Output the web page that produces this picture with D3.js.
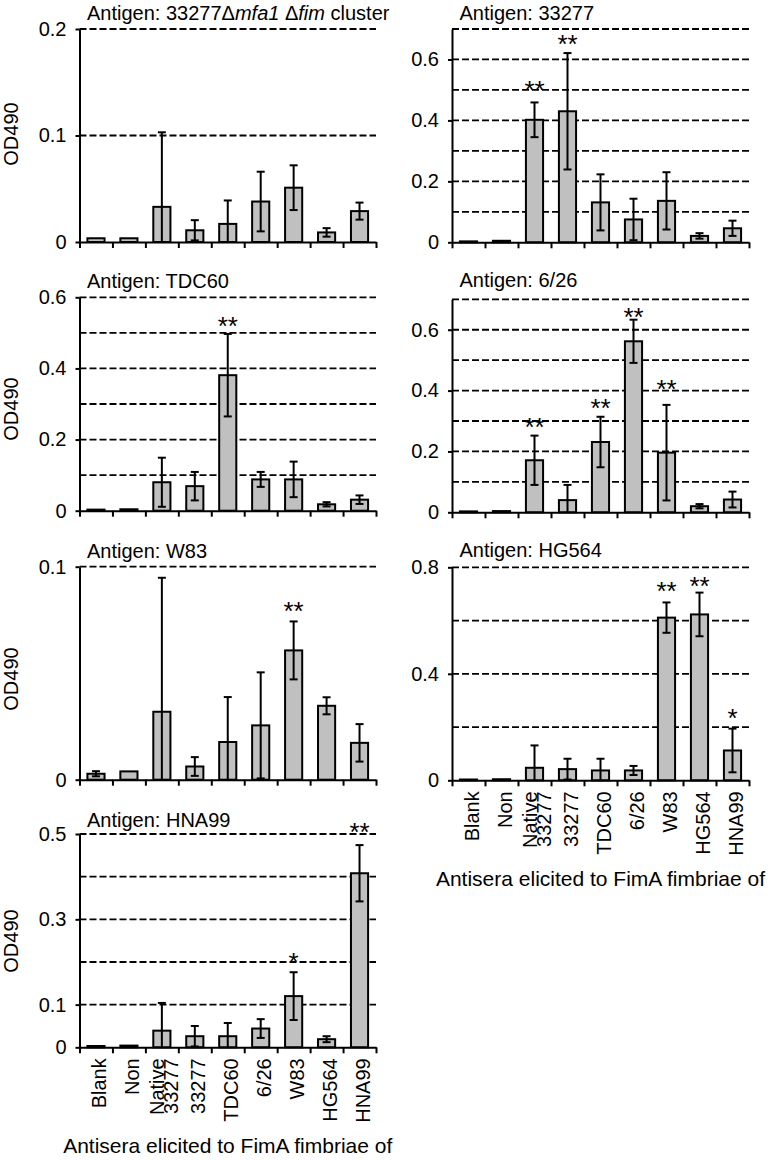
<!DOCTYPE html>
<html><head><meta charset="utf-8">
<script src="https://cdn.jsdelivr.net/npm/d3@7"></script>
<style>
body{margin:0;background:#fff}
text{font-family:Arial,"Liberation Sans",Helvetica,sans-serif;fill:#000}
</style>
</head><body>
<svg id="c" width="777" height="1160"></svg>
<script>
// ---------- DATA ----------
const categories = ["Blank","Non","Native 33277","33277","TDC60","6/26","W83","HG564","HNA99"];
const categoryLines = [["Blank"],["Non"],["Native","33277"],["33277"],["TDC60"],["6/26"],["W83"],["HG564"],["HNA99"]];
const xAxisTitle = "Antisera elicited to FimA fimbriae of";
const yAxisTitle = "OD490";

// Antigen: 33277Δmfa1 Δfim cluster
const meanMutant = [0.0035,0.0035,0.033,0.011,0.017,0.038,0.051,0.009,0.029];
const sdMutant   = [0,0,0.070,0.0095,0.022,0.028,0.021,0.004,0.008];
const starsMutant = ["","","","","","","","",""];
const starAtMutant = [0,0,0,0,0,0,0,0,0];
const ticksMutant = [0,0.1,0.2];
const gridMutant = [0.1,0.2];

// Antigen: 33277
const mean33277 = [0.003,0.005,0.402,0.430,0.131,0.075,0.136,0.021,0.046];
const sd33277   = [0,0,0.057,0.191,0.092,0.068,0.094,0.009,0.025];
const stars33277 = ["","","**","**","","","","",""];
const starAt33277 = [0,0,0.521,0.671,0,0,0,0,0];
const ticks33277 = [0,0.2,0.4,0.6];
const grid33277 = [0.1,0.2,0.3,0.4,0.5,0.6,0.7];

// Antigen: TDC60
const meanTDC60 = [0.003,0.004,0.080,0.069,0.381,0.088,0.088,0.018,0.031];
const sdTDC60   = [0,0,0.069,0.040,0.116,0.021,0.050,0.006,0.012];
const starsTDC60 = ["","","","","**","","","",""];
const starAtTDC60 = [0,0,0,0,0.536,0,0,0,0];
const ticksTDC60 = [0,0.2,0.4,0.6];
const gridTDC60 = [0.1,0.2,0.3,0.4,0.5,0.6];

// Antigen: 6/26
const mean626 = [0.003,0.004,0.171,0.040,0.231,0.562,0.196,0.020,0.042];
const sd626   = [0,0,0.081,0.050,0.083,0.071,0.157,0.007,0.026];
const stars626 = ["","","**","","**","**","**","",""];
const starAt626 = [0,0,0.299,0,0.363,0.663,0.425,0,0];
const ticks626 = [0,0.2,0.4,0.6];
const grid626 = [0.1,0.2,0.3,0.4,0.5,0.6,0.7];

// Antigen: W83
const meanW83 = [0.0028,0.0039,0.0319,0.0062,0.0177,0.0255,0.0607,0.0347,0.0173];
const sdW83   = [0.0012,0,0.0629,0.0044,0.0211,0.0249,0.0136,0.0040,0.0088];
const starsW83 = ["","","","","","","**","",""];
const starAtW83 = [0,0,0,0,0,0,0.082,0,0];
const ticksW83 = [0,0.1];
const gridW83 = [0.1];

// Antigen: HG564
const meanHG564 = [0.003,0.004,0.047,0.042,0.037,0.037,0.611,0.623,0.112];
const sdHG564   = [0,0,0.084,0.039,0.044,0.017,0.057,0.082,0.082];
const starsHG564 = ["","","","","","","**","**","*"];
const starAtHG564 = [0,0,0,0,0,0,0.733,0.754,0.257];
const ticksHG564 = [0,0.4,0.8];
const gridHG564 = [0.2,0.4,0.6,0.8];

// Antigen: HNA99
const meanHNA99 = [0.003,0.004,0.039,0.026,0.026,0.044,0.120,0.019,0.408];
const sdHNA99   = [0,0,0.065,0.024,0.031,0.022,0.056,0.007,0.066];
const starsHNA99 = ["","","","","","","*","","**"];
const starAtHNA99 = [0,0,0,0,0,0,0.213,0,0.519];
const ticksHNA99 = [0,0.1,0.3,0.5];
const gridHNA99 = [0.1,0.2,0.3,0.4,0.5];

// ---------- LAYOUT ----------
const cols = [{x0:79.5, x1:376}, {x0:452, x1:749}];
const panels = [
  {title:[["Antigen: 33277Δ",false],["mfa1",true],[" Δ",false],["fim",true],[" cluster",false]],
   col:0, top:29, bottom:242, max:0.2, mean:meanMutant, sd:sdMutant, stars:starsMutant, starAt:starAtMutant,
   ticks:ticksMutant, grid:gridMutant, titleY:19.5, ylab:134, xlabels:false},
  {title:[["Antigen: 33277",false]], col:1, top:29, bottom:242.3, max:0.7, mean:mean33277, sd:sd33277,
   stars:stars33277, starAt:starAt33277, ticks:ticks33277, grid:grid33277, titleY:20, ylab:null, xlabels:false},
  {title:[["Antigen: TDC60",false]], col:0, top:297.3, bottom:510.7, max:0.6, mean:meanTDC60, sd:sdTDC60,
   stars:starsTDC60, starAt:starAtTDC60, ticks:ticksTDC60, grid:gridTDC60, titleY:287.5, ylab:409, xlabels:false},
  {title:[["Antigen: 6/26",false]], col:1, top:299.3, bottom:512.3, max:0.7, mean:mean626, sd:sd626,
   stars:stars626, starAt:starAt626, ticks:ticks626, grid:grid626, titleY:287, ylab:null, xlabels:false},
  {title:[["Antigen: W83",false]], col:0, top:566.7, bottom:779.7, max:0.1, mean:meanW83, sd:sdW83,
   stars:starsW83, starAt:starAtW83, ticks:ticksW83, grid:gridW83, titleY:558, ylab:679, xlabels:false},
  {title:[["Antigen: HG564",false]], col:1, top:567.3, bottom:780.3, max:0.8, mean:meanHG564, sd:sdHG564,
   stars:starsHG564, starAt:starAtHG564, ticks:ticksHG564, grid:gridHG564, titleY:557, ylab:null, xlabels:true, xtitleY:886},
  {title:[["Antigen: HNA99",false]], col:0, top:834, bottom:1047.3, max:0.5, mean:meanHNA99, sd:sdHNA99,
   stars:starsHNA99, starAt:starAtHNA99, ticks:ticksHNA99, grid:gridHNA99, titleY:826.5, ylab:941, xlabels:true, xtitleY:1153}
];

const svg = d3.select("#c");
const FS = 20;

panels.forEach(p => {
  const c = cols[p.col];
  const g = svg.append("g");
  const x = d3.scaleBand().domain(categories).range([c.x0, c.x1]).padding(0);
  const xb = d3.scaleLinear().domain([0, categories.length]).range([c.x0, c.x1]);
  const y = d3.scaleLinear().domain([0, p.max]).range([p.bottom, p.top]);
  const bw = x.bandwidth() * 0.52;
  const cx = i => x(categories[i]) + x.bandwidth() / 2;

  // dashed grid
  g.append("g").selectAll("line").data(p.grid).join("line")
    .attr("x1", c.x0).attr("x2", c.x1)
    .attr("y1", d => y(d)).attr("y2", d => y(d))
    .attr("stroke", "#000").attr("stroke-width", 1.8).attr("stroke-dasharray", "7,3");

  // bars
  g.append("g").selectAll("rect").data(p.mean).join("rect")
    .attr("x", (d, i) => cx(i) - bw / 2)
    .attr("y", d => y(d))
    .attr("width", bw)
    .attr("height", d => y(0) - y(d))
    .attr("fill", "#c0c0c0").attr("stroke", "#000").attr("stroke-width", 2);

  // error bars
  const eb = g.append("g").attr("stroke", "#000").attr("stroke-width", 2);
  p.mean.forEach((m, i) => {
    const s = p.sd[i];
    if (!s) return;
    const hi = m + s, lo = Math.max(0, m - s);
    eb.append("line").attr("x1", cx(i)).attr("x2", cx(i)).attr("y1", y(hi)).attr("y2", y(lo));
    eb.append("line").attr("x1", cx(i) - 4).attr("x2", cx(i) + 4).attr("y1", y(hi)).attr("y2", y(hi));
    if (m - s > 0) eb.append("line").attr("x1", cx(i) - 4).attr("x2", cx(i) + 4).attr("y1", y(lo)).attr("y2", y(lo));
  });

  // significance stars
  const starData = p.stars.map((s, i) => ({s, i, v: p.starAt[i]})).filter(d => d.s !== "");
  g.append("g").selectAll("text").data(starData).join("text")
    .attr("x", d => cx(d.i))
    .attr("y", d => y(d.v) + 15)
    .attr("text-anchor", "middle").attr("font-size", 26)
    .text(d => d.s);

  // y axis
  const ya = g.append("g").attr("transform", `translate(${c.x0},0)`)
    .call(d3.axisLeft(y).tickValues(p.ticks).tickSize(4).tickSizeOuter(0).tickPadding(9)
      .tickFormat(d => d === 0 ? "0" : d3.format(".1f")(d)));
  ya.select(".domain").attr("stroke-width", 2);
  ya.selectAll(".tick line").attr("stroke-width", 2);
  ya.selectAll(".tick text").attr("font-size", FS).attr("font-family", null);

  // x axis (ticks at category boundaries)
  const xa = g.append("g").attr("transform", `translate(0,${p.bottom})`)
    .call(d3.axisBottom(xb).tickValues(d3.range(categories.length + 1)).tickSize(6).tickSizeOuter(0).tickFormat(""));
  xa.select(".domain").attr("stroke-width", 2);
  xa.selectAll(".tick line").attr("stroke-width", 2);

  // title
  const t = g.append("text").attr("x", c.x0 + 7.5).attr("y", p.titleY).attr("font-size", FS);
  p.title.forEach(([s, it]) => t.append("tspan").attr("font-style", it ? "italic" : null).text(s));

  // y label
  if (p.ylab !== null) {
    g.append("text").attr("transform", `translate(18,${p.ylab}) rotate(-90)`)
      .attr("text-anchor", "middle").attr("font-size", FS).text(yAxisTitle);
  }

  // x labels
  if (p.xlabels) {
    categoryLines.forEach((lines, i) => {
      const tt = g.append("text")
        .attr("transform", `translate(${cx(i)},${p.bottom + 11}) rotate(-90)`)
        .attr("text-anchor", "end").attr("font-size", FS);
      if (lines.length === 1) {
        tt.append("tspan").attr("x", 0).attr("dy", "0.5em").text(lines[0]);
      } else {
        tt.append("tspan").attr("x", 0).attr("dy", "0.12em").text(lines[0]);
        tt.append("tspan").attr("x", 0).attr("dy", "0.7em").text(lines[1]);
      }
    });
    g.append("text").attr("x", (c.x0 + c.x1) / 2).attr("y", p.xtitleY)
      .attr("text-anchor", "middle").attr("font-size", 21).text(xAxisTitle);
  }
});
</script>
</body></html>
